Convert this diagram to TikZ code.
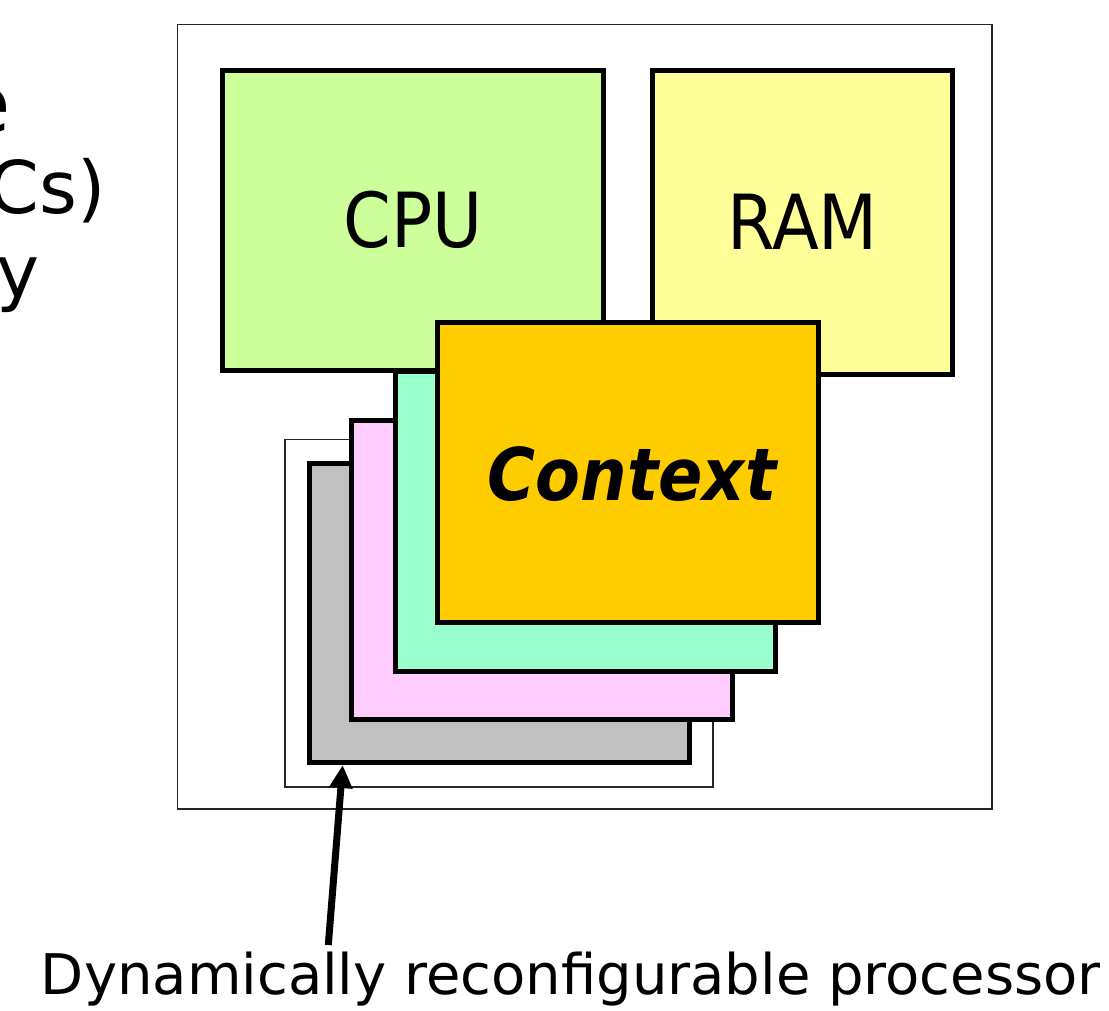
\documentclass[tikz,border=0pt]{standalone}
\usepackage{fontspec}
\setmainfont{DejaVu Sans}
\usetikzlibrary{arrows.meta}
\definecolor{cpucol}{HTML}{CCFF99}
\definecolor{ramcol}{HTML}{FFFF99}
\definecolor{ctxcol}{HTML}{FFCC00}
\definecolor{mintcol}{HTML}{99FFCC}
\definecolor{pinkcol}{HTML}{FFCCFF}
\definecolor{graycol}{HTML}{C0C0C0}
\begin{document}
\begin{tikzpicture}[x=1pt,y=-1pt,
  blk/.style={draw=black,line width=5pt,rectangle,inner sep=0pt,outer sep=0pt},
  thinbox/.style={draw=black!85,line width=1.6pt,rectangle,inner sep=0pt,outer sep=0pt},
  big/.style={font=\fontsize{76}{80}\selectfont},
  frag/.style={anchor=base east,inner sep=0pt,font=\fontsize{72.7}{80}\selectfont}]
\useasboundingbox (0,0) rectangle (1109,1010);
% cut-off slide text at the left
\node[frag,font=\fontsize{80}{84}\selectfont] (fe) at (11,132) {e};
\node[frag] (fcs) at (106,213) {Cs)};
\node[frag] (fy) at (40,297) {y};
% outer frame
\node[thinbox,minimum width=814.5pt,minimum height=784.5pt] (frame) at (584.75,416.75) {};
% CPU and RAM
\node[blk,fill=cpucol,minimum width=381pt,minimum height=299.5pt,big] (cpu) at (413,220.25) {\scalebox{0.9}[1]{CPU}};
\node[blk,fill=ramcol,minimum width=300pt,minimum height=303.5pt,big] (ram) at (802.5,222.25) {\scalebox{0.9}[1]{RAM}};
% thin outline behind the stack
\node[thinbox,fill=white,minimum width=427.7pt,minimum height=347.4pt] (outline) at (498.85,613) {};
% stack of contexts
\node[blk,fill=graycol,minimum width=380pt,minimum height=299pt] (gray) at (499,613) {};
\node[blk,fill=pinkcol,minimum width=381pt,minimum height=299pt] (pink) at (542,569.5) {};
\node[blk,fill=mintcol,minimum width=380pt,minimum height=300.5pt] (mint) at (585,521.25) {};
\node[blk,fill=ctxcol,minimum width=381pt,minimum height=299.5pt] (ctx) at (628,472.25) {};
\node[inner sep=0pt,anchor=base,font=\fontsize{72.7}{80}\selectfont\bfseries\itshape] (ctxlbl) at (632,500.7) {\scalebox{0.9}[1]{Context}};
% pointer
\coordinate (tail) at (328.3,945);
\coordinate (tip) at (342.7,765);
\draw[line width=7pt,-{Triangle[length=23pt,width=22pt]}] (tail) -- (tip);
% caption
\node[anchor=base,inner sep=0pt,font=\fontsize{56}{60}\selectfont] (cap) at (570.8,994) {Dynamically reconfigurable processor};
\end{tikzpicture}
\end{document}
